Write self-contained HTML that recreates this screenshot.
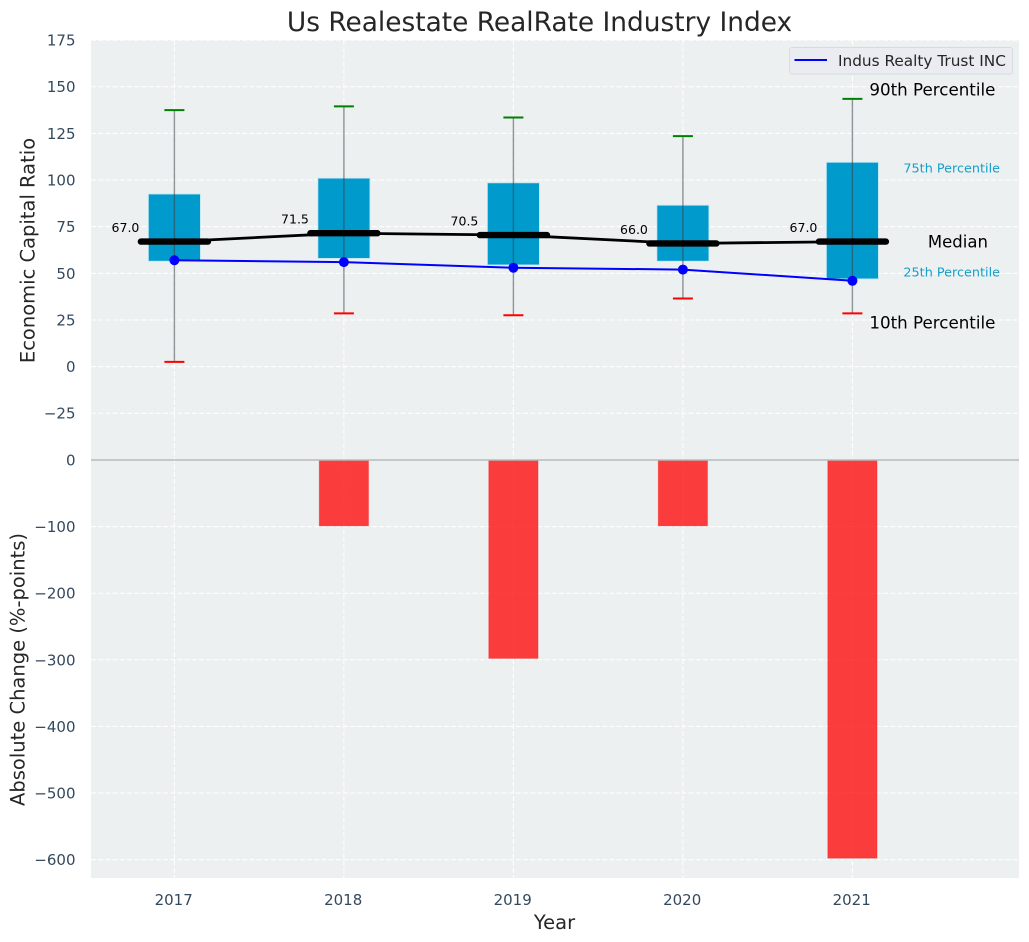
<!DOCTYPE html>
<html lang="en">
<head>
<meta charset="utf-8">
<title>Us Realestate RealRate Industry Index</title>
<style>
html,body{margin:0;padding:0;background:#fff;width:1029px;height:942px;overflow:hidden}
svg{display:block;font-family:"DejaVu Sans","Liberation Sans",sans-serif}
</style>
</head>
<body>
<svg id="chart" width="1029" height="942" viewBox="0 0 1029 942" xmlns="http://www.w3.org/2000/svg"></svg>
<script>
const years = [2017, 2018, 2019, 2020, 2021];
const p90 = [137.5, 139.5, 133.5, 123.5, 143.5];
const p75 = [92.5, 101, 98.5, 86.5, 109.5];
const medians = [67, 71.5, 70.5, 66, 67];
const p25 = [56.5, 58, 54.5, 56.5, 47];
const p10 = [2.5, 28.5, 27.5, 36.5, 28.5];
const company = [57, 56, 53, 52, 46];
const changes = [0, -99, -298, -99, -598];
const topTicks = [175, 150, 125, 100, 75, 50, 25, 0, -25];
const bottomTicks = [0, -100, -200, -300, -400, -500, -600];

const svg = document.getElementById('chart');
const NS = 'http://www.w3.org/2000/svg';
const plotLeft = 91, plotRight = 1019;
function xScale(v){ return 174.4 + (v - 2017) * 169.5; }
function yTop(v){ return 366.6 - v * 1.8657; }
function yBottom(v){ return 460 - v * 0.6660; }
function fmt(v){ return (v < 0 ? '\u2212' + Math.abs(v) : String(v)); }
function mk(tag, attrs, parent){
  const el = document.createElementNS(NS, tag);
  for (const k in attrs) el.setAttribute(k, attrs[k]);
  (parent || svg).appendChild(el);
  return el;
}
function txt(str, attrs, parent){
  const el = mk('text', attrs, parent);
  el.textContent = str;
  return el;
}

// Panels
const bgTop = mk('rect', {x: plotLeft, y: 40, width: plotRight - plotLeft, height: 420, fill: '#ecf0f1'});


const bgBottom = mk('rect', {x: plotLeft, y: 460, width: plotRight - plotLeft, height: 418, fill: '#ecf0f1'});



// Gridlines
const grid = mk('g', {stroke: '#ffffff', 'stroke-width': 1, 'stroke-dasharray': '5 2.2', fill: 'none'});


topTicks.forEach(function(t){
  const l = mk('line', {x1: plotLeft, x2: plotRight, y1: yTop(t), y2: yTop(t)}, grid);
  
  
});
bottomTicks.forEach(function(t){
  const l = mk('line', {x1: plotLeft, x2: plotRight, y1: yBottom(t), y2: yBottom(t)}, grid);
  
  
});
years.forEach(function(y){
  const l = mk('line', {x1: xScale(y), x2: xScale(y), y1: 40, y2: 878}, grid);
  
  
});

// Bars for absolute change
const halfBar = 24.7;
years.forEach(function(y, i){
  if (changes[i] === 0) return;
  const top = yBottom(0), bot = yBottom(changes[i]);
  const r = mk('rect', {x: xScale(y) - halfBar, y: top, width: halfBar * 2, height: bot - top, fill: '#ff0000', 'fill-opacity': 0.75, stroke: '#ff0000', 'stroke-opacity': 0.2, 'stroke-width': 1});
  
  
});

// Zero line of the lower panel
const zero = mk('line', {x1: plotLeft, x2: plotRight, y1: 460, y2: 460, stroke: '#b8baba', 'stroke-width': 1.4});



// Boxes
const halfBox = 26;
years.forEach(function(y, i){
  const top = yTop(p75[i]), bot = yTop(p25[i]);
  const r = mk('rect', {x: xScale(y) - halfBox, y: top, width: halfBox * 2, height: bot - top, fill: '#009acd', stroke: '#bfe6f3', 'stroke-width': 0.8});
  
  
});

// Whiskers and caps
years.forEach(function(y, i){
  const x = xScale(y);
  const w = mk('line', {x1: x, x2: x, y1: yTop(p90[i]), y2: yTop(p10[i]), stroke: '#3c4043', 'stroke-opacity': 0.55, 'stroke-width': 1.4});
  
  
  const c1 = mk('line', {x1: x - 10, x2: x + 10, y1: yTop(p90[i]), y2: yTop(p90[i]), stroke: '#008000', 'stroke-width': 2});
  
  
  const c2 = mk('line', {x1: x - 10, x2: x + 10, y1: yTop(p10[i]), y2: yTop(p10[i]), stroke: '#ff0000', 'stroke-width': 2});
  
  
});

// Median connecting line
const medLine = mk('polyline', {points: years.map(function(y, i){ return xScale(y) + ',' + yTop(medians[i]); }).join(' '), fill: 'none', stroke: '#000', 'stroke-width': 2.8});



// Median bars
years.forEach(function(y, i){
  const x = xScale(y), v = yTop(medians[i]);
  const m = mk('line', {x1: x - 33.5, x2: x + 33.5, y1: v, y2: v, stroke: '#000', 'stroke-width': 6.4, 'stroke-linecap': 'round'});
  
  
  const t = txt(medians[i].toFixed(1), {x: x - 35, y: v - 9.5, 'text-anchor': 'end', 'font-size': 12.5, fill: '#000'});
  
  
});

// Company line and markers
const compLine = mk('polyline', {points: years.map(function(y, i){ return xScale(y) + ',' + yTop(company[i]); }).join(' '), fill: 'none', stroke: '#0000ff', 'stroke-width': 2});


years.forEach(function(y, i){
  const c = mk('circle', {cx: xScale(y), cy: yTop(company[i]), r: 5, fill: '#0000ff'});
  
  
});

// Tick labels
topTicks.forEach(function(t){
  const el = txt(fmt(t), {x: 75.5, y: yTop(t) + 5.5, 'text-anchor': 'end', 'font-size': 15, fill: '#34495e'});
  
  
});
bottomTicks.forEach(function(t){
  const el = txt(fmt(t), {x: 75.5, y: yBottom(t) + 5.5, 'text-anchor': 'end', 'font-size': 15, fill: '#34495e'});
  
  
});
years.forEach(function(y){
  const el = txt(String(y), {x: xScale(y) - 0.7, y: 905, 'text-anchor': 'middle', 'font-size': 15, fill: '#34495e'});
  
  
});

// Percentile annotations
const last = years.length - 1;
const xLast = xScale(years[last]);
const a90 = txt('90th Percentile', {x: xLast + 17, y: yTop(p90[last]) - 3.5, 'font-size': 16.7, fill: '#000'});


const a75 = txt('75th Percentile', {x: xLast + 51, y: yTop(p75[last]) + 10, 'font-size': 12.8, fill: '#169fca'});


const aMed = txt('Median', {x: xLast + 75.5, y: yTop(medians[last]) + 6, 'font-size': 16.5, fill: '#000'});


const a25 = txt('25th Percentile', {x: xLast + 51, y: yTop(p25[last]) - 2.5, 'font-size': 12.8, fill: '#169fca'});


const a10 = txt('10th Percentile', {x: xLast + 17, y: yTop(p10[last]) + 15, 'font-size': 16.7, fill: '#000'});



// Titles
const title = txt('Us Realestate RealRate Industry Index', {x: 539.5, y: 31, 'text-anchor': 'middle', 'font-size': 26.4, fill: '#262626'});


const yt1 = txt('Economic Capital Ratio', {transform: 'translate(34.5,250.5) rotate(-90)', 'text-anchor': 'middle', 'font-size': 19.5, fill: '#262626'});


const yt2 = txt('Absolute Change (%-points)', {transform: 'translate(24.5,669.5) rotate(-90)', 'text-anchor': 'middle', 'font-size': 19.5, fill: '#262626'});


const xt = txt('Year', {x: 554.5, y: 929, 'text-anchor': 'middle', 'font-size': 19.5, fill: '#262626'});



// Legend
const legend = mk('g', {});


const lb = mk('rect', {x: 789.5, y: 47.5, width: 223, height: 26.5, rx: 2.5, fill: '#eaecf1', stroke: '#d8dadd', 'stroke-width': 1}, legend);


const ll = mk('line', {x1: 794.5, x2: 827, y1: 60, y2: 60, stroke: '#0000ff', 'stroke-width': 2}, legend);


const lt = txt('Indus Realty Trust INC', {x: 838, y: 66, 'font-size': 15.3, fill: '#262626'}, legend);


</script>
</body>
</html>
